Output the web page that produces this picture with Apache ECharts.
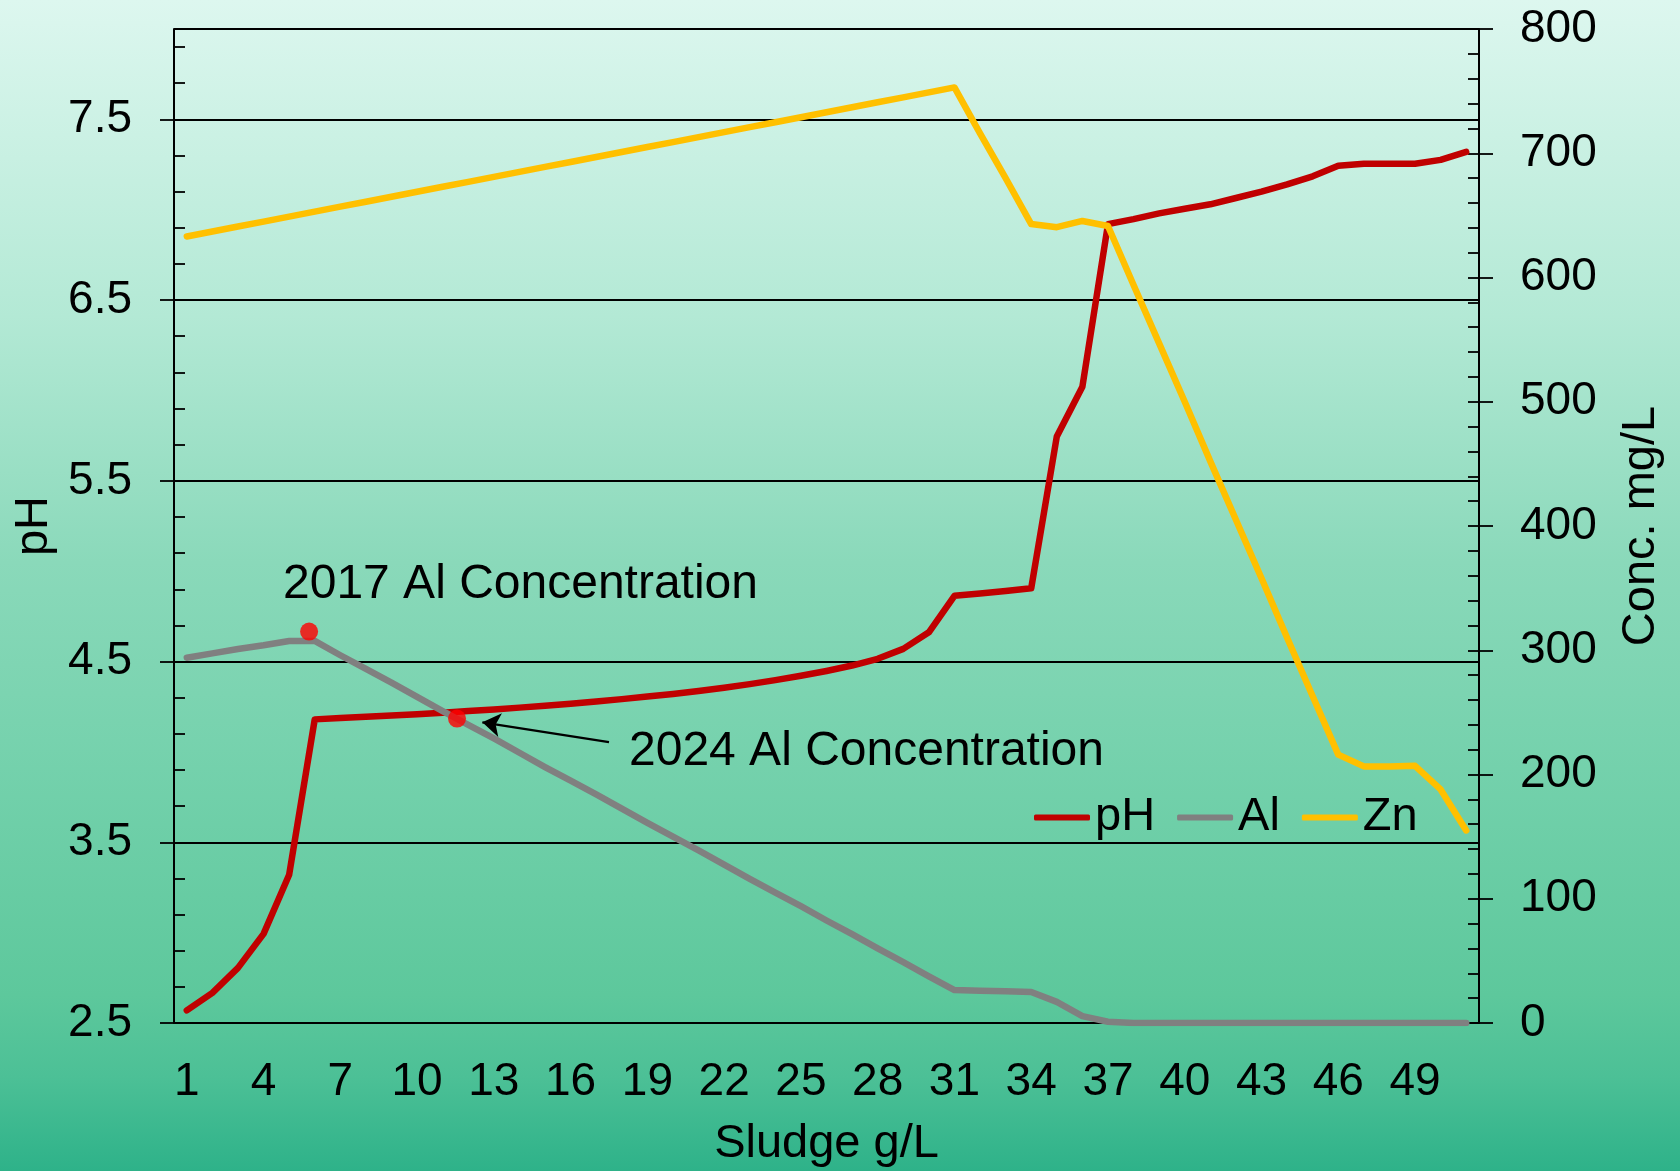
<!DOCTYPE html>
<html>
<head>
<meta charset="utf-8">
<title>pH, Al and Zn vs sludge</title>
<script src="https://cdn.jsdelivr.net/npm/echarts@6/dist/echarts.min.js"></script>
<style>
    html, body { margin: 0; padding: 0; }
    #chart { width: 1680px; height: 1171px; }
</style>
</head>
<body>
<div id="chart"></div>
<script>
// sludge dose categories (g/L)
var sludge = ['1', '2', '3', '4', '5', '6', '7', '8', '9', '10', '11', '12', '13', '14', '15', '16', '17',
    '18', '19', '20', '21', '22', '23', '24', '25', '26', '27', '28', '29', '30', '31', '32', '33', '34',
    '35', '36', '37', '38', '39', '40', '41', '42', '43', '44', '45', '46', '47', '48', '49', '50', '51'];

var phValues = [2.57, 2.667, 2.805, 2.993, 3.32, 4.18, 4.187, 4.194, 4.201, 4.209, 4.217, 4.226, 4.235,
    4.245, 4.256, 4.267, 4.279, 4.292, 4.306, 4.321, 4.337, 4.355, 4.375, 4.397, 4.421, 4.448, 4.478,
    4.515, 4.57, 4.662, 4.864, 4.876, 4.89, 4.905, 5.745, 6.02, 6.92, 6.948, 6.98, 7.005, 7.03, 7.065,
    7.1, 7.14, 7.185, 7.243, 7.254, 7.254, 7.254, 7.276, 7.32];

var alValues = [294, 297.5, 301, 304, 307.5, 307.5, 296, 285, 274, 262.5, 251, 240, 229, 217.5, 206,
    195, 184, 172.5, 161, 150, 139, 127.5, 116, 105, 94, 82.5, 71.5, 60, 49, 37.5, 26.5, 26, 25.5, 25,
    17, 5.5, 1, 0, 0, 0, 0, 0, 0, 0, 0, 0, 0, 0, 0, 0, 0];

var znValues = [633, 637, 641, 645, 649, 653, 657, 661, 665, 669, 673, 677, 681, 685, 689, 693, 697,
    701, 705, 709, 713, 717, 721, 725, 729, 733, 737, 741, 745, 749, 753, 716, 680, 643, 640.5, 645.5,
    641.5, 594, 547, 500, 452, 405, 358, 310, 263, 216, 206.5, 206.5, 207, 188, 155];

// highlighted Al concentrations [sludge, mg/L]
var alMarkers = [[5.78, 315], [11.56, 245]];
var arrowFrom = [17.5, 226];
var arrowTo = [12.55, 242];

// axis ranges
var phMin = 2.5, phMax = 8, phStep = 1, phMinor = 0.2;
var concMin = 0, concMax = 800, concStep = 100, concMinor = 20;

(function () {
    var myChart = echarts.init(document.getElementById('chart'));
    var font = "'Liberation Sans', Arial, sans-serif";
    var black = '#000';

    var option = {
        animation: false,
        backgroundColor: {
            type: 'linear', x: 0, y: 0, x2: 0, y2: 1,
            colorStops: [
                { offset: 0, color: '#ddf7ef' },
                { offset: 0.27, color: '#b3e9d5' },
                { offset: 0.48, color: '#8ad9ba' },
                { offset: 0.68, color: '#71d0aa' },
                { offset: 0.85, color: '#5dc89c' },
                { offset: 0.92, color: '#4cc096' },
                { offset: 1, color: '#2eb289' }
            ]
        },
        textStyle: { fontFamily: font },
        grid: { left: 174, right: 201, top: 29, bottom: 148, outerBoundsMode: 'none' },
        legend: {
            left: 1029,
            top: 789,
            icon: 'roundRect',
            itemWidth: 56,
            itemHeight: 6,
            itemGap: 22,
            textStyle: { fontSize: 47, color: black, fontFamily: font },
            data: ['pH', 'Al', 'Zn']
        },
        xAxis: [
            {
                type: 'category',
                data: sludge,
                position: 'bottom',
                boundaryGap: true,
                name: 'Sludge g/L',
                nameLocation: 'middle',
                nameGap: 98,
                nameTextStyle: { fontSize: 47, color: black, fontFamily: font },
                axisLine: { lineStyle: { color: black, width: 2 } },
                axisTick: { interval: 0, length: 14, lineStyle: { color: black, width: 1.8 } },
                axisLabel: { interval: 2, fontSize: 46, color: black, margin: 36, fontFamily: font },
                splitLine: { show: false }
            },
            {
                // ticks at the category centres
                type: 'category',
                data: sludge,
                position: 'bottom',
                boundaryGap: true,
                axisLine: { show: false },
                axisTick: { interval: 0, alignWithLabel: true, inside: true, length: 11, lineStyle: { color: black, width: 1.8 } },
                axisLabel: { show: false },
                splitLine: { show: false }
            },
            {
                // value scale over the same categories, for the markers
                type: 'value',
                min: 0.5,
                max: 51.5,
                show: false
            }
        ],
        yAxis: [
            {
                type: 'value',
                position: 'left',
                min: phMin,
                max: phMax,
                interval: phStep,
                name: 'pH',
                nameLocation: 'middle',
                nameRotate: 90,
                nameGap: 110,
                nameTextStyle: { fontSize: 47, color: black, fontFamily: font },
                axisLine: { show: true, lineStyle: { color: black, width: 2 } },
                axisTick: { show: true, length: 14, lineStyle: { color: black, width: 1.8 } },
                axisLabel: {
                    fontSize: 46, color: black, margin: 42, fontFamily: font, showMaxLabel: false,
                    formatter: function (v) { return v.toFixed(1); }
                },
                splitLine: { show: true, lineStyle: { color: black, width: 1.8 } }
            },
            {
                type: 'value',
                position: 'right',
                min: concMin,
                max: concMax,
                interval: concStep,
                name: 'Conc. mg/L',
                nameLocation: 'middle',
                nameRotate: 90,
                nameGap: 139,
                nameTextStyle: { fontSize: 47, color: black, fontFamily: font },
                axisLine: { show: true, lineStyle: { color: black, width: 2 } },
                axisTick: { show: true, length: 14, lineStyle: { color: black, width: 1.8 } },
                axisLabel: { fontSize: 46, color: black, margin: 41, fontFamily: font },
                splitLine: { show: false }
            },
            {
                // minor ticks, left
                type: 'value',
                position: 'left',
                min: phMin,
                max: phMax,
                interval: phMinor,
                axisLine: { show: false },
                axisTick: { show: true, inside: true, length: 11, lineStyle: { color: black, width: 1.8 } },
                axisLabel: { show: false },
                splitLine: { show: false }
            },
            {
                // minor ticks, right
                type: 'value',
                position: 'right',
                min: concMin,
                max: concMax,
                interval: concMinor,
                axisLine: { show: false },
                axisTick: { show: true, inside: true, length: 11, lineStyle: { color: black, width: 1.8 } },
                axisLabel: { show: false },
                splitLine: { show: false }
            }
        ],
        graphic: [
            {
                type: 'text', x: 283, y: 585,
                style: { text: '2017 Al Concentration', fontSize: 48, fontFamily: font, fill: black, verticalAlign: 'middle' }
            },
            {
                type: 'text', x: 629, y: 752,
                style: { text: '2024 Al Concentration', fontSize: 48, fontFamily: font, fill: black, verticalAlign: 'middle' }
            }
        ],
        series: [
            {
                name: 'pH',
                type: 'line',
                xAxisIndex: 0,
                yAxisIndex: 0,
                data: phValues,
                symbol: 'none',
                color: '#c00000',
                lineStyle: { color: '#c00000', width: 6.5, cap: 'round', join: 'round' }
            },
            {
                name: 'Al',
                type: 'line',
                xAxisIndex: 0,
                yAxisIndex: 1,
                data: alValues,
                symbol: 'none',
                color: '#808080',
                lineStyle: { color: '#808080', width: 6.5, cap: 'round', join: 'round' }
            },
            {
                name: 'Zn',
                type: 'line',
                xAxisIndex: 0,
                yAxisIndex: 1,
                data: znValues,
                symbol: 'none',
                color: '#ffc000',
                lineStyle: { color: '#ffc000', width: 6.5, cap: 'round', join: 'round' }
            },
            {
                name: 'markers',
                type: 'scatter',
                xAxisIndex: 2,
                yAxisIndex: 1,
                data: alMarkers,
                symbolSize: 18,
                itemStyle: { color: '#ff0000' },
                z: 5,
                silent: true,
                markLine: {
                    silent: true,
                    symbol: ['none', 'arrow'],
                    symbolSize: 18,
                    label: { show: false },
                    lineStyle: { color: black, width: 2.2, type: 'solid' },
                    data: [[{ coord: arrowFrom }, { coord: arrowTo }]]
                }
            }
        ]
    };
    myChart.setOption(option);
    window.addEventListener('resize', function () {
        myChart.resize();
    });
})();
</script>
</body>
</html>
